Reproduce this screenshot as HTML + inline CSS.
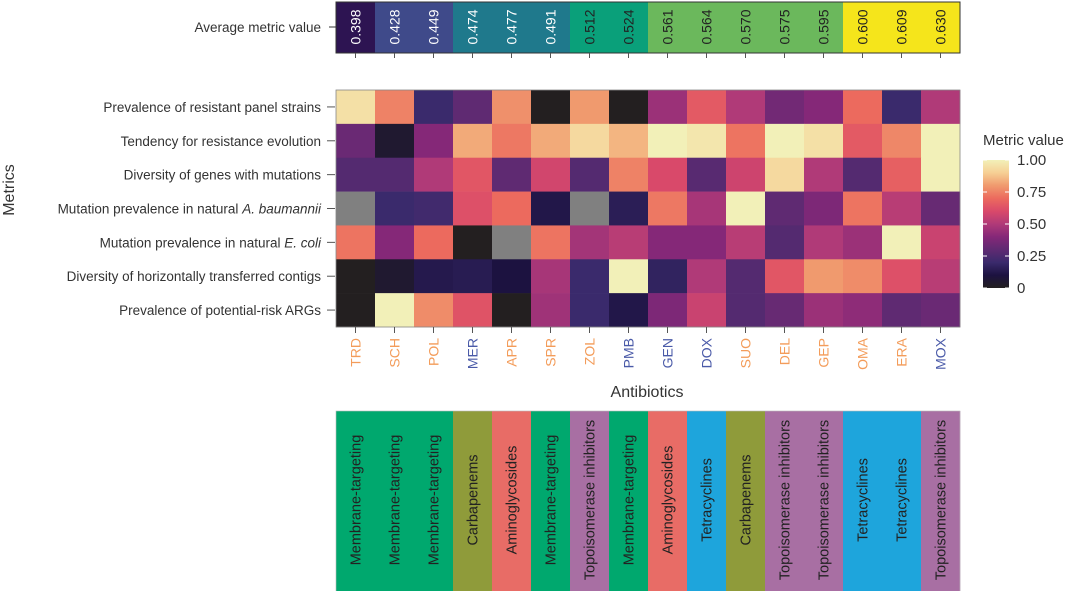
<!DOCTYPE html>
<html><head><meta charset="utf-8"><style>
html,body{margin:0;padding:0;background:#fff;width:1080px;height:591px;overflow:hidden}
svg{display:block;font-family:"Liberation Sans",sans-serif}
</style></head><body>
<svg id="chart" width="1080" height="591" viewBox="0 0 1080 591" xmlns="http://www.w3.org/2000/svg"></svg>
<script>
const antibiotics = ["TRD","SCH","POL","MER","APR","SPR","ZOL","PMB","GEN","DOX","SUO","DEL","GEP","OMA","ERA","MOX"];
const labelBlue = [0,0,0,1,0,0,0,1,1,1,0,0,0,0,0,1];
const averages = [0.398,0.428,0.449,0.474,0.477,0.491,0.512,0.524,0.561,0.564,0.570,0.575,0.595,0.600,0.609,0.630];
const avgColors = ["#2d1452","#3f4a8a","#3f4a8a","#1f798c","#1f798c","#1f798c","#0aa07a","#0aa07a","#6bb85c","#6bb85c","#6bb85c","#6bb85c","#6bb85c","#f5e51b","#f5e51b","#f5e51b"];
const metrics = ["Prevalence of resistant panel strains","Tendency for resistance evolution","Diversity of genes with mutations","Mutation prevalence in natural |A. baumannii","Mutation prevalence in natural |E. coli","Diversity of horizontally transferred contigs","Prevalence of potential-risk ARGs"];
const row1 = [0.95,0.75,0.2,0.3,0.78,0,0.8,0,0.45,0.65,0.5,0.35,0.4,0.7,0.2,0.5];
const row2 = [0.33,0.05,0.4,0.83,0.73,0.83,0.93,0.85,1.0,0.97,0.72,1.0,0.95,0.65,0.76,1.0];
const row3 = [0.27,0.27,0.5,0.64,0.3,0.58,0.27,0.75,0.6,0.28,0.57,0.93,0.5,0.27,0.67,1.0];
const row4 = [null,0.2,0.22,0.62,0.7,0.12,null,0.15,0.73,0.48,1.0,0.3,0.38,0.72,0.52,0.32];
const row5 = [0.72,0.4,0.7,0,null,0.72,0.47,0.52,0.4,0.4,0.52,0.27,0.5,0.45,1.0,0.56];
const row6 = [0,0.05,0.13,0.14,0.1,0.48,0.2,1.0,0.17,0.5,0.27,0.64,0.8,0.77,0.62,0.52];
const row7 = [0,1.0,0.77,0.63,0,0.46,0.2,0.12,0.38,0.56,0.27,0.32,0.45,0.42,0.3,0.33];
const classes = ["Membrane-targeting","Membrane-targeting","Membrane-targeting","Carbapenems","Aminoglycosides","Membrane-targeting","Topoisomerase inhibitors","Membrane-targeting","Aminoglycosides","Tetracyclines","Carbapenems","Topoisomerase inhibitors","Topoisomerase inhibitors","Tetracyclines","Tetracyclines","Topoisomerase inhibitors"];
const colorTicks = [0,0.25,0.5,0.75,1.0];
const colorTickLabels = ["0","0.25","0.50","0.75","1.00"];
const rows = [row1,row2,row3,row4,row5,row6,row7];

const classColor = {"Membrane-targeting":"#00a86e","Carbapenems":"#8f9b3a","Aminoglycosides":"#e86c66","Topoisomerase inhibitors":"#a86fa3","Tetracyclines":"#1ea5dc"};
const magma = ["#231f20","#1c1240","#3a2a6c","#5f2a72","#852878","#b03a78","#d9496a","#ec6a5e","#f09a6e","#f6cf94","#f2f0b8"];
function hex(c){return [1,3,5].map(i=>parseInt(c.substr(i,2),16));}
function cmap(v){
  if(v===null) return "#808080";
  v=Math.max(0,Math.min(1,v));
  const t=v*10,i=Math.min(9,Math.floor(t)),f=t-i;
  const a=hex(magma[i]),b=hex(magma[i+1]);
  return "rgb("+a.map((x,k)=>Math.round(x+(b[k]-x)*f)).join(",")+")";
}
const NS="http://www.w3.org/2000/svg";
const svg=document.getElementById("chart");
function el(tag,attrs,parent){const e=document.createElementNS(NS,tag);for(const k in attrs)e.setAttribute(k,attrs[k]);(parent||svg).appendChild(e);return e;}

const x0=336, cw=39;
const xPos=i=>x0+i*cw;
const hy0=90, rh=(327-90)/7;
const yPos=j=>hy0+j*rh;

const avgG=el("g",{});


averages.forEach((v,i)=>{
  const r=el("rect",{x:xPos(i),y:2,width:cw+0.3,height:51,fill:avgColors[i]},avgG);
  
  
  const cx=xPos(i)+cw/2+5;
  const t=el("text",{x:cx,y:27,transform:"rotate(-90 "+cx+" 27)","text-anchor":"middle","font-size":"14",fill:i<6?"#fff":"#222"},avgG);
  t.textContent=v.toFixed(3);
  
  
});
el("rect",{x:x0,y:2,width:cw*16,height:51,fill:"none",stroke:"#333","stroke-width":1},avgG);
el("line",{x1:329,x2:336,y1:27,y2:27,stroke:"#333"});
const at=el("text",{x:321,y:32,"text-anchor":"end","font-size":"13.5",fill:"#333"});
at.textContent="Average metric value";


antibiotics.forEach((a,i)=>el("line",{x1:xPos(i)+cw/2,x2:xPos(i)+cw/2,y1:53,y2:58,stroke:"#555"}));

const hm=el("g",{});


rows.forEach((row,j)=>{
  row.forEach((v,i)=>{
    const r=el("rect",{x:xPos(i),y:yPos(j),width:cw+0.3,height:rh+0.3,fill:cmap(v)},hm);
    
    
  });
  const cy=yPos(j)+rh/2;
  el("line",{x1:327,x2:335,y1:cy,y2:cy,stroke:"#555"});
  const parts=metrics[j].split("|");
  const t=el("text",{x:321,y:cy+5,"text-anchor":"end","font-size":"13.5",fill:"#333"});
  
  
  const s1=el("tspan",{},t);s1.textContent=parts[0];
  if(parts[1]){const s2=el("tspan",{"font-style":"italic"},t);s2.textContent=parts[1];}
});
el("rect",{x:x0,y:hy0,width:cw*16,height:rh*7,fill:"none",stroke:"#888","stroke-width":0.8});
const mt=el("text",{x:14,y:190,transform:"rotate(-90 14 190)","text-anchor":"middle","font-size":"16",fill:"#333"});
mt.textContent="Metrics";



antibiotics.forEach((a,i)=>{
  const cx=xPos(i)+cw/2;
  el("line",{x1:cx,x2:cx,y1:327,y2:333,stroke:"#555"});
  const tx=cx+5;
  const t=el("text",{x:tx,y:338,transform:"rotate(-90 "+tx+" 338)","text-anchor":"end","font-size":"14",fill:labelBlue[i]?"#4a5aa8":"#f39c5a"});
  t.textContent=a;
  
  
});
const xt=el("text",{x:647,y:397,"text-anchor":"middle","font-size":"16",fill:"#333"});
xt.textContent="Antibiotics";



classes.forEach((c,i)=>{
  const r=el("rect",{x:xPos(i),y:411,width:cw+0.3,height:180,fill:classColor[c]});
  
  
  const tx=xPos(i)+cw/2+5;
  const t=el("text",{x:tx,y:500,transform:"rotate(-90 "+tx+" 500)","text-anchor":"middle","font-size":"14.5",fill:"#222"});
  t.textContent=c;
  
  
});
el("rect",{x:x0,y:411,width:cw*16,height:181,fill:"none",stroke:"#bbb","stroke-width":0.6});

const lg=el("g",{});


const lt=el("text",{x:983,y:145,"font-size":"15",fill:"#333"},lg);
lt.textContent="Metric value";
const defs=el("defs",{});
const grad=el("linearGradient",{id:"mg",x1:0,y1:1,x2:0,y2:0},defs);
magma.forEach((c,k)=>el("stop",{offset:k/10,"stop-color":c},grad));
const ly=v=>288-v*128;
el("rect",{x:983,y:160,width:26,height:128,fill:"url(#mg)"},lg);
colorTicks.forEach((v,k)=>{
  el("line",{x1:983,x2:987,y1:ly(v),y2:ly(v),stroke:"#fff"},lg);
  el("line",{x1:1005,x2:1009,y1:ly(v),y2:ly(v),stroke:"#fff"},lg);
  const t=el("text",{x:1017,y:ly(v)+5,"font-size":"15",fill:"#333"},lg);
  t.textContent=colorTickLabels[k];
  
  
});
</script>
</body></html>
